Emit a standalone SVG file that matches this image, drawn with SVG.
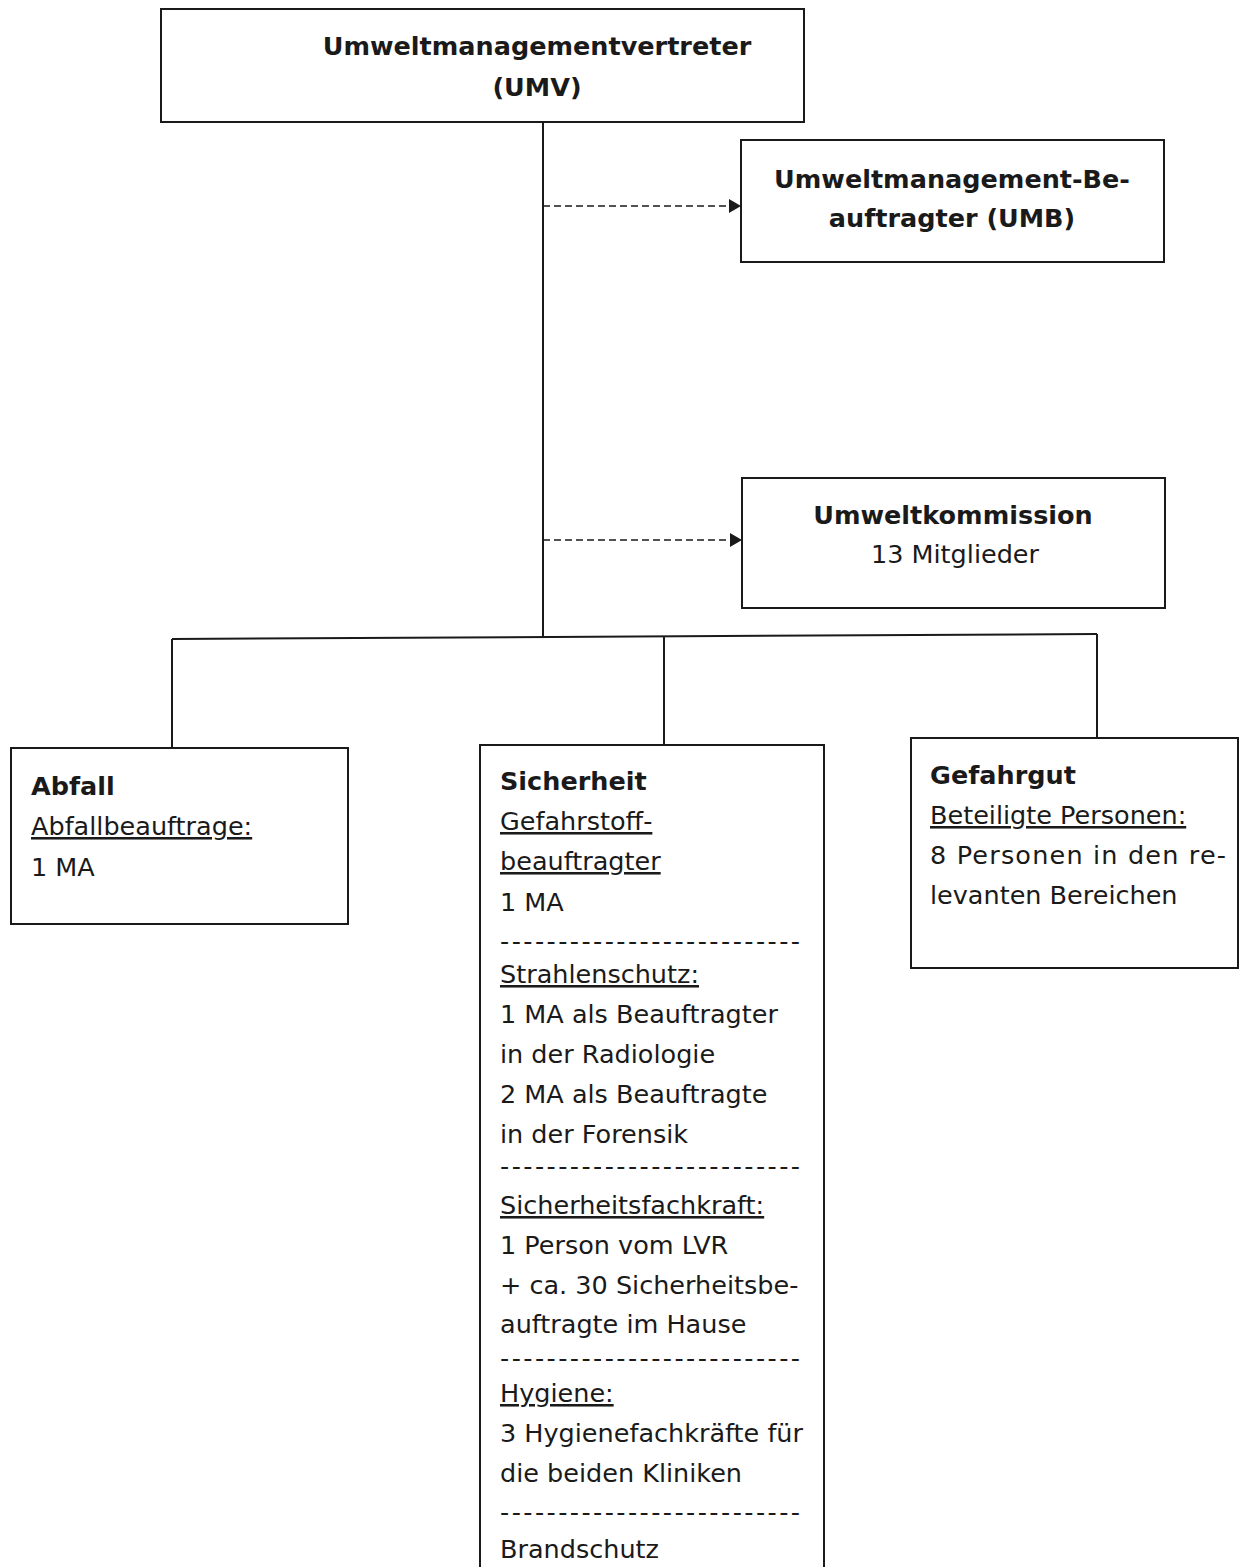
<svg xmlns="http://www.w3.org/2000/svg" width="1239" height="1567" viewBox="0 0 1239 1567">
<defs>
<style>
.box{fill:none;stroke:#1a1a1a;stroke-width:2}
.ln{fill:none;stroke:#1a1a1a;stroke-width:2}
.dash{fill:none;stroke:#1a1a1a;stroke-width:1.6;stroke-dasharray:7 4}
text{font-family:"DejaVu Sans","Verdana",sans-serif;font-size:25.5px;fill:#1a1a1a}
.b{font-weight:bold}
.u{text-decoration:underline}
.c{text-anchor:middle}
</style>
<marker id="arr" viewBox="0 0 12 14" refX="12" refY="7" markerWidth="12" markerHeight="14" markerUnits="userSpaceOnUse" orient="auto">
<path d="M0,0 L12,7 L0,14 Z" fill="#1a1a1a"/>
</marker>
</defs>
<rect width="1239" height="1567" fill="#fff"/>
<g id="connectors">
<line class="ln" x1="543" y1="122" x2="543" y2="637"/>
<line class="dash" x1="543" y1="206" x2="741" y2="206" marker-end="url(#arr)"/>
<line class="dash" x1="543" y1="540" x2="742" y2="540" marker-end="url(#arr)"/>
<line class="ln" x1="172" y1="639" x2="1097" y2="634"/>
<line class="ln" x1="172" y1="639" x2="172" y2="748"/>
<line class="ln" x1="664" y1="636" x2="664" y2="745"/>
<line class="ln" x1="1097" y1="634" x2="1097" y2="738"/>
</g>
<g id="umv">
<rect class="box" x="161" y="9" width="643" height="113"/>
<text class="b c" x="537" y="55">Umweltmanagementvertreter</text>
<text class="b c" x="537" y="96">(UMV)</text>
</g>
<g id="umb">
<rect class="box" x="741" y="140" width="423" height="122"/>
<text class="b c" x="952" y="188">Umweltmanagement-Be-</text>
<text class="b c" x="952" y="227">auftragter (UMB)</text>
</g>
<g id="kommission">
<rect class="box" x="742" y="478" width="423" height="130"/>
<text class="b c" x="953" y="524">Umweltkommission</text>
<text class="c" x="955" y="563">13 Mitglieder</text>
</g>
<g id="abfall">
<rect class="box" x="11" y="748" width="337" height="176"/>
<text class="b" x="31" y="795">Abfall</text>
<text class="u" x="31" y="835">Abfallbeauftrage:</text>
<text x="31" y="876">1 MA</text>
</g>
<g id="sicherheit">
<path class="box" d="M480,1568 V745 H824 V1568"/>
<text class="b" x="500" y="790">Sicherheit</text>
<text class="u" x="500" y="830">Gefahrstoff-</text>
<text class="u" x="500" y="870">beauftragter</text>
<text x="500" y="911">1 MA</text>
<text x="500" y="950" textLength="300" lengthAdjust="spacing">--------------------------</text>
<text class="u" x="500" y="983">Strahlenschutz:</text>
<text x="500" y="1023">1 MA als Beauftragter</text>
<text x="500" y="1063">in der Radiologie</text>
<text x="500" y="1103">2 MA als Beauftragte</text>
<text x="500" y="1143">in der Forensik</text>
<text x="500" y="1175" textLength="300" lengthAdjust="spacing">--------------------------</text>
<text class="u" x="500" y="1214">Sicherheitsfachkraft:</text>
<text x="500" y="1254">1 Person vom LVR</text>
<text x="500" y="1294">+ ca. 30 Sicherheitsbe-</text>
<text x="500" y="1333">auftragte im Hause</text>
<text x="500" y="1367" textLength="300" lengthAdjust="spacing">--------------------------</text>
<text class="u" x="500" y="1402">Hygiene:</text>
<text x="500" y="1442">3 Hygienefachkräfte für</text>
<text x="500" y="1482">die beiden Kliniken</text>
<text x="500" y="1521" textLength="300" lengthAdjust="spacing">--------------------------</text>
<text x="500" y="1558">Brandschutz</text>
</g>
<g id="gefahrgut">
<rect class="box" x="911" y="738" width="327" height="230"/>
<text class="b" x="930" y="784">Gefahrgut</text>
<text class="u" x="930" y="824">Beteiligte Personen:</text>
<text x="930" y="864" textLength="296" lengthAdjust="spacing">8 Personen in den re-</text>
<text x="930" y="904">levanten Bereichen</text>
</g>
</svg>
